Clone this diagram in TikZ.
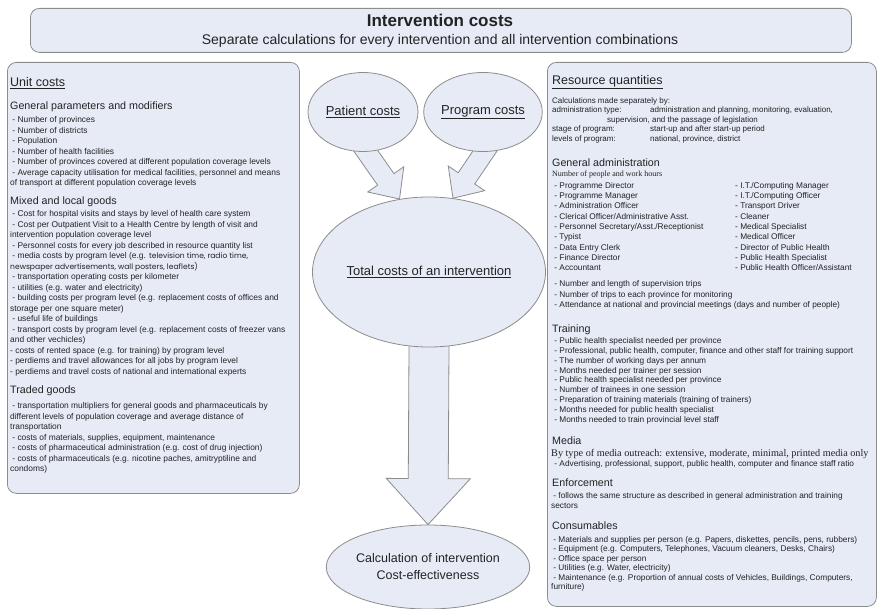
\documentclass[tikz,border=0pt]{standalone}
\usepackage{fontspec}
\setmainfont{Liberation Sans}
\newfontfamily\timesface{Liberation Serif}
\newfontfamily\posterface{Poppins}
\usetikzlibrary{shapes.geometric, calc, backgrounds}

\definecolor{boxblue}{RGB}{230,235,246}
\definecolor{edgegray}{RGB}{140,140,140}
\definecolor{inkgray}{RGB}{35,35,35}

\newcommand{\itemdash}{\hspace*{2.2pt}- }

\begin{document}
\begin{tikzpicture}[
    x = 1pt, y = -1pt,
    every node/.style = {inner sep = 0pt, text = inkgray},
    panel/.style = {draw = edgegray, fill = boxblue,
      line width = 0.8pt, rounded corners = 9pt,
      anchor = north west},
    blob/.style = {ellipse, draw = edgegray, fill = boxblue,
      line width = 0.8pt, align = center,
      font = \fontsize{13}{17}\selectfont},
    fat/.style n args = {3}{draw = edgegray, fill = boxblue,
      line width = 0.8pt,
      to path = {
        ($(\tikztostart)!-8pt!(\tikztotarget)$) coordinate (fatfoot)
        ($(\tikztotarget)!#3!(\tikztostart)$) coordinate (fatbase)
        ($(fatfoot)!#1!90:(\tikztotarget)$)
        -- ($(fatbase)!#1!-90:(fatfoot)$)
        -- ($(fatbase)!#2!-90:(fatfoot)$)
        -- (\tikztotarget)
        -- ($(fatbase)!#2!90:(fatfoot)$)
        -- ($(fatbase)!#1!90:(fatfoot)$)
        -- ($(fatfoot)!#1!-90:(\tikztotarget)$)
        -- cycle}},
    underhead/.style = {anchor = base west,
      font = \fontsize{12.5}{14}\selectfont},
    heading/.style = {anchor = base west,
      font = \fontsize{10.7}{12}\selectfont},
    lefttext/.style = {anchor = north west, align = left,
      font = \fontsize{8.4}{10.5}\selectfont},
    righttext/.style = {anchor = north west, align = left,
      font = \fontsize{8.3}{10.3}\selectfont},
    ]

    \useasboundingbox (0, 0) rectangle (878, 609);

    \node at (30, 8)
    [panel, minimum width = 821pt, minimum height = 44pt, name = headbox] {};
    \node at (440, 27)
    [anchor = base, font = \bfseries\fontsize{17}{20}\selectfont, name = headtitle]
    {Intervention costs};
    \node at (440, 45)
    [anchor = base, font = \fontsize{14}{16}\selectfont, name = headsub]
    {Separate calculations for every intervention and all intervention combinations};

    \node at (7, 62)
    [panel, minimum width = 292pt, minimum height = 431pt, name = unitbox] {};
    \node at (547, 62)
    [panel, minimum width = 329pt, minimum height = 544pt, name = resourcebox] {};

    \node at (363, 112) [blob, minimum width = 110pt, minimum height = 79pt,
      name = patient] {\underline{Patient costs}};
    \node at (483, 112) [blob, minimum width = 110pt, minimum height = 79pt,
      name = program] {\underline{Program costs}};
    \node at (429, 272) [blob, minimum width = 212pt, minimum height = 150pt,
      name = total] {\underline{Total costs of an intervention}};
    \node at (428, 567) [blob, minimum width = 176pt, minimum height = 84pt,
      font = \fontsize{12.5}{17}\selectfont, name = effect]
    {Calculation of intervention\\Cost-effectiveness};

    \begin{scope}[on background layer]
      \draw [fat = {10pt}{22pt}{24pt}] (patient.-85) to (total.112);
      \draw [fat = {10pt}{22pt}{24pt}] (program.-88) to (total.72);
      \draw [fat = {20pt}{42pt}{46pt}] (total.south) to (effect.north);
    \end{scope}

    \node at (10, 87) [underhead, name = unithead] {\underline{Unit costs}};

    \node at (10, 109.7) [heading, name = generalhead]
    {General parameters and modifiers};
    \node at (10, 116.3) [lefttext, name = generallist]
    {\itemdash Number of provinces\\
      \itemdash Number of districts\\
      \itemdash Population\\
      \itemdash Number of health facilities\\
      \itemdash Number of provinces covered at different population coverage levels\\
      \itemdash Average capacity utilisation for medical facilities, personnel and means\\
      of transport at different population coverage levels};

    \node at (10, 204.7) [heading, name = mixedhead] {Mixed and local goods};
    \node at (10, 210.3) [lefttext, name = mixedlist]
    {\itemdash Cost for hospital visits and stays by level of health care system\\
      \itemdash Cost per Outpatient Visit to a Health Centre by length of visit and\\
      intervention population coverage level\\
      \itemdash Personnel costs for every job described in resource quantity list\\
      \itemdash media costs by program level (e.g. {\posterface\fontsize{7.6}{10.5}\selectfont television time, radio time,}\\
      {\posterface\fontsize{7.6}{10.5}\selectfont newspaper advertisements, wall posters, leaflets)}\\
      \itemdash transportation operating costs per kilometer\\
      \itemdash utilities (e.g. water and electricity)\\
      \itemdash building costs per program level (e.g. replacement costs of offices and\\
      storage per one square meter)\\
      \itemdash useful life of buildings\\
      \itemdash transport costs by program level (e.g. replacement costs of freezer vans\\
      and other vechicles)\\
      - costs of rented space (e.g. for training) by program level\\
      - perdiems and travel allowances for all jobs by program level\\
      - perdiems and travel costs of national and international experts};

    \node at (10, 393.7) [heading, name = tradedhead] {Traded goods};
    \node at (10, 402.3) [lefttext, name = tradedlist]
    {\itemdash transportation multipliers for general goods and pharmaceuticals by\\
      different levels of population coverage and average distance of\\
      transportation\\
      \itemdash costs of materials, supplies, equipment, maintenance\\
      \itemdash costs of pharmaceutical administration (e.g. cost of drug injection)\\
      \itemdash costs of pharmaceuticals (e.g. nicotine paches, amitryptiline and\\
      condoms)};

    \node at (552, 84.3) [underhead, name = resourcehead]
    {\underline{Resource quantities}};
    \node at (552, 97.5) [righttext, font = \fontsize{8}{9.5}\selectfont, name = calclist]
    {Calculations made separately by:\\
      \makebox[98pt][l]{administration type:}administration and planning, monitoring, evaluation,\\
      \hspace*{55pt}supervision, and the passage of legislation\\
      \makebox[98pt][l]{stage of program:}start-up and after start-up period\\
      \makebox[98pt][l]{levels of program:}national, province, district};

    \node at (552, 166.7) [heading, name = adminhead] {General administration};
    \node at (552, 177) [anchor = base west,
      font = \timesface\fontsize{8}{9}\selectfont, name = adminnote]
    {Number of people and work hours};
    \node at (552, 182) [righttext, name = staffleft]
    {\itemdash Programme Director\\
      \itemdash Programme Manager\\
      \itemdash Administration Officer\\
      \itemdash Clerical Officer/Administrative Asst.\\
      \itemdash Personnel Secretary/Asst./Receptionist\\
      \itemdash Typist\\
      \itemdash Data Entry Clerk\\
      \itemdash Finance Director\\
      \itemdash Accountant};
    \node at (735, 182) [righttext, name = staffright]
    {- I.T./Computing Manager\\
      - I.T./Computing Officer\\
      - Transport Driver\\
      - Cleaner\\
      - Medical Specialist\\
      - Medical Officer\\
      - Director of Public Health\\
      - Public Health Specialist\\
      - Public Health Officer/Assistant};
    \node at (552, 280.5) [righttext, name = triplist]
    {\itemdash Number and length of supervision trips\\
      \itemdash Number of trips to each province for monitoring\\
      \itemdash Attendance at national and provincial meetings (days and number of people)};

    \node at (552, 332.7) [heading, name = traininghead] {Training};
    \node at (552, 337.5) [righttext, font = \fontsize{8.3}{9.8}\selectfont, name = traininglist]
    {\itemdash Public health specialist needed per province\\
      \itemdash Professional, public health, computer, finance and other staff for training support\\
      \itemdash The number of working days per annum\\
      \itemdash Months needed per trainer per session\\
      \itemdash Public health specialist needed per province\\
      \itemdash Number of trainees in one session\\
      \itemdash Preparation of training materials (training of trainers)\\
      \itemdash Months needed for public health specialist\\
      \itemdash Months needed to train provincial level staff};

    \node at (552, 444.7) [heading, name = mediahead] {Media};
    \node at (551, 456) [anchor = base west,
      font = \timesface\fontsize{10.2}{12}\selectfont, name = medianote]
    {By type of media outreach: extensive, moderate, minimal, printed media only};
    \node at (552, 460) [righttext, name = medialist]
    {\itemdash Advertising, professional, support, public health, computer and finance staff ratio};

    \node at (552, 486.7) [heading, name = enforcehead] {Enforcement};
    \node at (551, 492.5) [righttext, font = \fontsize{8.3}{9.5}\selectfont, name = enforcelist]
    {\itemdash follows the same structure as described in general administration and training\\
      sectors};

    \node at (552, 529.7) [heading, name = consumehead] {Consumables};
    \node at (551, 536) [righttext, font = \fontsize{8.3}{9.5}\selectfont, name = consumelist]
    {\itemdash Materials and supplies per person (e.g. Papers, diskettes, pencils, pens, rubbers)\\
      \itemdash Equipment (e.g. Computers, Telephones, Vacuum cleaners, Desks, Chairs)\\
      \itemdash Office space per person\\
      \itemdash Utilities (e.g. Water, electricity)\\
      \itemdash Maintenance (e.g. Proportion of annual costs of Vehicles, Buildings, Computers,\\
      furniture)};

  \end{tikzpicture}
\end{document}
